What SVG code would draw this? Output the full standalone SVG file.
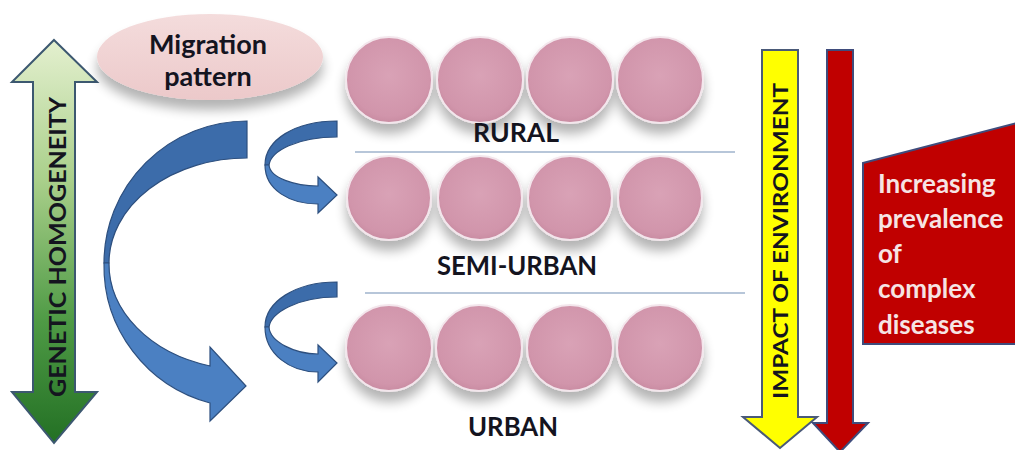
<svg xmlns="http://www.w3.org/2000/svg" width="1015" height="450" viewBox="0 0 1015 450">
<defs>
  <linearGradient id="gGreen" x1="0" y1="0" x2="0" y2="1">
    <stop offset="0" stop-color="#e4f0cf"/>
    <stop offset="0.35" stop-color="#a9cf8a"/>
    <stop offset="0.7" stop-color="#4e9a45"/>
    <stop offset="1" stop-color="#237024"/>
  </linearGradient>
  <radialGradient id="gBall" cx="0.5" cy="0.45" r="0.55">
    <stop offset="0" stop-color="#d9a2b6"/>
    <stop offset="0.85" stop-color="#d195ab"/>
    <stop offset="1" stop-color="#c98ca2"/>
  </radialGradient>
  <linearGradient id="gEll" x1="0" y1="0" x2="0" y2="1">
    <stop offset="0" stop-color="#f4dcdc"/>
    <stop offset="1" stop-color="#ecc9ca"/>
  </linearGradient>
  <filter id="shadow" x="-30%" y="-30%" width="160%" height="180%">
    <feGaussianBlur in="SourceAlpha" stdDeviation="6"/>
    <feOffset dx="0" dy="10" result="b"/>
    <feComponentTransfer><feFuncA type="linear" slope="0.3"/></feComponentTransfer>
    <feMerge><feMergeNode/><feMergeNode in="SourceGraphic"/></feMerge>
  </filter>
  <style>
    .lbl{font-family:Lato,"Liberation Sans",sans-serif;font-weight:bold;fill:#14141f;}
    .ball{fill:url(#gBall);stroke:#f3e6ec;stroke-width:2;}
    .sep{stroke:#9fb3cc;stroke-width:1.5;}
    .blueDark{fill:#3c6caa;stroke:#2d4f7e;stroke-width:1.2;}
    .blueLight{fill:#4b80c2;stroke:#2d4f7e;stroke-width:1.2;}
    .dis{font-family:Lato,"Liberation Sans",sans-serif;font-weight:bold;font-size:26px;fill:#f6e4e4;}
  </style>
</defs>
<rect width="1015" height="450" fill="#ffffff"/>

<g id="genetic-homogeneity">
  <path d="M54,40 L97,82 L75,82 L75,392 L97,392 L54,443 L12,392 L33,392 L33,82 L12,82 Z" fill="url(#gGreen)" stroke="#3c5870" stroke-width="2"/>
  <text class="lbl" font-size="23" text-anchor="middle" textLength="300" lengthAdjust="spacingAndGlyphs" transform="translate(66,247) rotate(-90)">GENETIC HOMOGENEITY</text>
</g>

<g id="migration-pattern">
  <ellipse cx="210" cy="57" rx="113" ry="43" fill="url(#gEll)" filter="url(#shadow)"/>
  <text class="lbl" font-size="27" text-anchor="middle" x="208" y="54">Migration</text>
  <text class="lbl" font-size="27" text-anchor="middle" x="208" y="86">pattern</text>
</g>

<g id="connectors">
  <!-- big C arrow -->
  <path class="blueDark" d="M247,121 A143,142 0 0 0 104,263 L109,263 A138,105 0 0 1 247,158 Z"/>
  <path class="blueLight" d="M104,263 A143,142 0 0 0 210,403 L210,421 L246,386 L210,347 L210,366 A138,106 0 0 1 109,263 Z"/>
  <!-- small upper arrow -->
  <path class="blueDark" d="M337,121 C295,121 265,140 265,165 L269,165 C271,151 297,137 337,137 Z"/>
  <path class="blueLight" d="M265,165 C265,190 290,204 318,204 L318,213 L337,195 L318,177 L318,186 C295,186 270,178 269,165 Z"/>
  <!-- small lower arrow -->
  <path class="blueDark" d="M337,282 C295,282 265,302 265,327 L269,327 C271,313 297,297 337,297 Z"/>
  <path class="blueLight" d="M265,327 C265,354 290,372 318,372 L318,382 L337,363 L318,345 L318,354 C295,354 270,342 269,327 Z"/>
</g>

<g id="rural">
  <g filter="url(#shadow)">
    <circle class="ball" cx="389" cy="80" r="43"/>
    <circle class="ball" cx="480" cy="80" r="43"/>
    <circle class="ball" cx="570" cy="80" r="43"/>
    <circle class="ball" cx="660" cy="80" r="43"/>
  </g>
  <text class="lbl" font-size="26" text-anchor="middle" x="516" y="142" textLength="86" lengthAdjust="spacingAndGlyphs">RURAL</text>
</g>
<line class="sep" x1="355" y1="152" x2="735" y2="152"/>

<g id="semi-urban">
  <g filter="url(#shadow)">
    <circle class="ball" cx="389" cy="198" r="42"/>
    <circle class="ball" cx="480" cy="198" r="42"/>
    <circle class="ball" cx="570" cy="198" r="42"/>
    <circle class="ball" cx="660" cy="198" r="42"/>
  </g>
  <text class="lbl" font-size="26" text-anchor="middle" x="517" y="275" textLength="160" lengthAdjust="spacingAndGlyphs">SEMI-URBAN</text>
</g>
<line class="sep" x1="365" y1="293" x2="745" y2="293"/>

<g id="urban">
  <g filter="url(#shadow)">
    <circle class="ball" cx="389" cy="348" r="43"/>
    <circle class="ball" cx="479" cy="348" r="43"/>
    <circle class="ball" cx="570" cy="348" r="43"/>
    <circle class="ball" cx="660" cy="348" r="43"/>
  </g>
  <text class="lbl" font-size="26" text-anchor="middle" x="513" y="436" textLength="90" lengthAdjust="spacingAndGlyphs">URBAN</text>
</g>

<g id="impact-of-environment">
  <path d="M762,50 L798,50 L798,417 L817,417 L780,448 L743,417 L762,417 Z" fill="#ffff00" stroke="#4a5a78" stroke-width="2"/>
  <text class="lbl" font-size="21" text-anchor="middle" textLength="316" lengthAdjust="spacingAndGlyphs" transform="translate(788,241) rotate(-90)">IMPACT OF ENVIRONMENT</text>
</g>

<g id="complex-disease-arrow">
  <path d="M827,50 L853,50 L853,423 L868,423 L840,452 L813,423 L827,423 Z" fill="#c00000" stroke="#3f4c7c" stroke-width="2"/>
</g>

<g id="increasing-prevalence">
  <path d="M863,163 L1017,123 L1017,344 L863,344 Z" fill="#c00000" stroke="#3f4c7c" stroke-width="2"/>
  <text class="dis" x="878" y="193">Increasing</text>
  <text class="dis" x="878" y="228">prevalence</text>
  <text class="dis" x="878" y="263">of</text>
  <text class="dis" x="878" y="298">complex</text>
  <text class="dis" x="878" y="334">diseases</text>
</g>
</svg>
